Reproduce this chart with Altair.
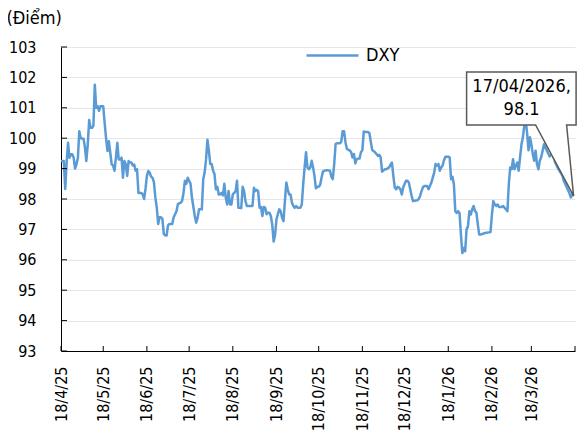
import altair as alt
import pandas as pd

FONT = "DejaVu Sans Condensed, DejaVu Sans, sans-serif"

start_date = "2025-04-18"
day_offsets = [
    0, 2, 3, 4, 5, 6, 7, 8, 9, 10, 11, 12, 13, 14, 16, 17, 18, 19, 20, 21, 22, 23, 24, 25, 26, 27, 28, 30,
    31, 32, 33, 34, 35, 36, 37, 38, 39, 40, 41, 42, 43, 44, 45, 46, 47, 48, 49, 50, 51, 52, 53, 54, 55, 56,
    57, 58, 59, 60, 61, 62, 63, 64, 65, 66, 67, 68, 69, 70, 71, 72, 73, 74, 75, 76, 77, 79, 80, 81, 82, 83,
    85, 86, 87, 88, 89, 90, 91, 92, 93, 95, 96, 97, 98, 100, 101, 102, 103, 104, 105, 106, 107, 108, 109,
    110, 111, 112, 113, 114, 115, 116, 117, 118, 119, 120, 121, 122, 123, 124, 125, 126, 128, 129, 130, 131,
    132, 136, 137, 138, 139, 140, 141, 142, 143, 144, 145, 146, 147, 148, 149, 150, 151, 152, 153, 154, 155,
    156, 157, 158, 159, 160, 161, 162, 163, 164, 165, 166, 167, 168, 170, 171, 172, 173, 174, 175, 176, 177,
    178, 179, 180, 181, 182, 183, 184, 185, 186, 187, 189, 191, 192, 193, 194, 195, 196, 198, 199, 200, 201,
    202, 203, 204, 205, 206, 207, 208, 209, 210, 212, 213, 214, 215, 216, 218, 219, 220, 221, 223, 224, 225,
    226, 227, 228, 230, 231, 233, 234, 235, 236, 237, 238, 239, 240, 241, 242, 243, 244, 245, 246, 247, 248,
    249, 250, 252, 253, 254, 255, 256, 257, 258, 260, 261, 263, 264, 265, 266, 267, 268, 269, 270, 271, 272,
    273, 275, 276, 277, 278, 279, 280, 281, 282, 283, 284, 285, 286, 287, 288, 289, 290, 291, 292, 293, 294,
    295, 296, 297, 298, 301, 305, 306, 307, 308, 309, 310, 311, 313, 314, 315, 316, 317, 318, 319, 320, 321,
    322, 323, 324, 325, 326, 327, 328, 329, 330, 331, 332, 333, 334, 335, 336, 337, 338, 339, 340, 341, 342,
    343, 345, 347, 349, 351, 353, 355, 356, 357, 358, 360, 361, 362, 363, 364,
]
dxy_values = [
    99.25, 99.25, 98.33, 99.2, 99.85, 99.36, 99.47, 99.47, 99.36, 99.0, 99.14, 99.36, 100.23, 100.0, 99.98,
    99.7, 99.25, 99.8, 100.6, 100.34, 100.34, 100.4, 101.76, 101.0, 101.05, 100.9, 101.05, 101.05,
    100.5, 100.0, 99.58, 99.9, 99.52, 99.14, 99.1, 98.93, 99.36, 99.85, 99.3, 99.3, 99.36, 98.7, 99.25,
    99.14, 98.76, 99.25, 99.2, 99.2, 99.1, 99.13, 98.93, 98.98, 98.2, 98.2,
    98.2, 98.15, 98.0, 98.33, 98.76, 98.92, 98.87, 98.73, 98.7, 98.55, 98.05, 97.72, 97.18, 97.4, 97.4,
    97.35, 96.85, 96.8, 96.8, 97.13, 97.18, 97.18, 97.4, 97.5, 97.6, 97.83,
    97.88, 97.94, 98.2, 98.6, 98.5, 98.7, 98.6, 98.5, 98.04, 97.44, 97.22, 97.38, 97.66, 97.66, 98.65,
    98.87, 99.31, 99.95, 99.6, 99.15, 99.15, 98.93, 98.82,
    98.32, 98.4, 98.15, 98.15, 98.2, 98.12, 98.5, 98.04, 97.82, 98.26, 97.82, 97.82, 98.15, 98.2, 98.26,
    98.6, 97.71, 97.7, 98.4, 98.26, 97.93,
    97.77, 97.77, 98.37, 98.26, 98.3, 98.26, 97.71, 97.74, 97.44, 97.74, 97.71, 97.5, 97.55, 97.55, 97.44,
    97.16, 96.6, 96.82, 97.33, 97.5, 97.66,
    97.6, 97.38, 97.27, 97.93, 98.54, 98.32, 98.15, 98.15, 97.88, 97.77, 97.71, 97.77, 97.71, 97.71, 97.82,
    98.49, 99.04, 99.54, 99.04, 98.98, 99.04,
    99.26, 99.04, 98.76, 98.35, 98.4, 98.4, 98.46, 98.7, 98.9, 98.93, 98.95, 98.93, 98.73, 98.65, 99.15,
    99.81, 99.83, 99.83, 99.88, 100.23, 100.23,
    99.87, 99.65, 99.62, 99.6, 99.54, 99.37, 99.48, 99.17, 99.32, 99.33, 99.54, 99.6, 100.22, 100.2, 100.2,
    100.17, 99.88, 99.61, 99.54, 99.48, 99.42,
    99.45, 99.37, 98.9, 98.98, 98.98, 99.04, 99.13, 99.2, 98.76, 98.38, 98.32, 98.4, 98.38, 98.32, 98.15,
    98.38, 98.49, 98.6, 98.6, 98.54, 98.32,
    98.1, 97.93, 97.95, 97.96, 98.0, 98.1, 98.26, 98.38, 98.43, 98.43, 98.32, 98.54, 98.7, 98.87, 99.15,
    99.1, 99.15, 98.93, 99.04, 99.1, 99.28,
    99.39, 99.39, 99.37, 98.65, 98.73, 98.48, 97.6, 97.54, 97.6, 97.54, 96.83, 96.22, 96.39, 96.28, 97.0,
    97.1, 97.6, 97.49, 97.66, 97.77, 97.6,
    97.55, 97.16, 96.83, 96.83, 96.88, 96.91, 97.49, 97.93, 97.82, 97.77, 97.82, 97.74, 97.74, 97.77, 97.71,
    97.66, 97.6, 98.49, 99.04, 98.98, 99.31,
    98.98, 99.09, 99.2, 98.93, 99.37, 99.8, 100.03, 100.42, 100.6, 100.15, 99.6, 100.03, 99.8, 99.48, 99.26,
    99.59, 99.15, 98.98, 99.26, 99.37, 99.59,
    99.8, 99.6, 99.4, 99.5, 99.2, 99.0, 98.85, 98.77, 98.6, 98.5, 98.3, 98.2, 98.05, 98.15, 98.1,
]
series_name = "DXY"
y_ticks = [93, 94, 95, 96, 97, 98, 99, 100, 101, 102, 103]
x_tick_dates = [
    "2025-04-18", "2025-05-18", "2025-06-18", "2025-07-18", "2025-08-18", "2025-09-18", "2025-10-18",
    "2025-11-18", "2025-12-18", "2026-01-18", "2026-02-18", "2026-03-18", "2026-04-18",
]
labelled_ticks = x_tick_dates[:-1]

W, H = 514, 304
LINE_COLOR = "#5B9BD5"

df = pd.DataFrame({
    "date": pd.Timestamp(start_date) + pd.to_timedelta(day_offsets, unit="D"),
    "value": dxy_values,
    "series": series_name,
})

last = df.tail(1).copy()
last["label"] = last["date"].dt.strftime("%d/%m/%Y") + ",\n" + last["value"].map(lambda v: f"{v:.1f}")


def dt(s):
    t = pd.Timestamp(s)
    return alt.DateTime(year=t.year, month=t.month, date=t.day)


x_scale = alt.Scale(domain=[dt(x_tick_dates[0]), dt(x_tick_dates[-1])], nice=False)
y_scale = alt.Scale(domain=[y_ticks[0], y_ticks[-1]], nice=False, zero=False)

x_axis = alt.Axis(values=[dt(s) for s in labelled_ticks], format="%-d/%-m/%y",
                  labelAngle=-90, labelFontSize=16, labelFont=FONT, labelColor="black",
                  labelPadding=15, ticks=False, tickSize=0, grid=False,
                  domainColor="black", domainWidth=1, labelFlush=False,
                  labelOverlap=False, labelBound=False)
y_axis = alt.Axis(values=y_ticks, labelFontSize=16, labelFont=FONT, labelColor="black",
                  labelPadding=25, ticks=False, tickSize=0, grid=True,
                  gridColor="#E6E6E6", gridWidth=1, domainColor="black", domainWidth=1,
                  titleAngle=0, titleAlign="left", titleBaseline="alphabetic",
                  titleX=-55, titleY=-24, titleFontSize=18, titleFont=FONT,
                  titleFontWeight="normal", titleColor="black")


def x_enc():
    return alt.X("date:T", scale=x_scale, title=None, axis=x_axis)


def y_enc():
    return alt.Y("value:Q", scale=y_scale, title="(Điểm)", axis=y_axis)


line = alt.Chart(df).mark_line(strokeWidth=2.5, strokeJoin="round").encode(
    x=x_enc(),
    y=y_enc(),
    color=alt.Color("series:N", scale=alt.Scale(range=[LINE_COLOR]),
                    legend=alt.Legend(orient="none", legendX=244, legendY=-19, title=None,
                                      symbolType="stroke", symbolSize=2704, symbolStrokeWidth=2.5,
                                      labelFontSize=18, labelFont=FONT, labelColor="black",
                                      labelOffset=6, padding=0)),
)

ytick_df = pd.DataFrame({"value": y_ticks})
yticks = alt.Chart(ytick_df).mark_rule(color="black", strokeWidth=1).encode(
    y=y_enc(),
    x=alt.value(0), x2=alt.value(6),
)

xtick_df = pd.DataFrame({"date": pd.to_datetime(x_tick_dates)})
xticks = alt.Chart(xtick_df).mark_rule(color="black", strokeWidth=1).encode(
    x=x_enc(),
    y=alt.value(H), y2=alt.value(H - 5),
)

callout_path = "M -107 -124 L 2.5 -124 L 2.5 -71 L -7 -71 L 0 0 L -38 -71 L -107 -71 Z"
callout = alt.Chart(last).mark_point(
    shape=callout_path, size=4, filled=True, fill="white", stroke="#595959",
    strokeWidth=1.5, opacity=1,
).encode(
    x=x_enc(),
    y=y_enc(),
)

callout_text = alt.Chart(last).mark_text(
    lineBreak="\n", fontSize=18, font=FONT, color="black", align="center",
    baseline="middle", lineHeight=23, dx=-52, dy=-109,
).encode(
    x=x_enc(),
    y=y_enc(),
    text="label:N",
)

chart = alt.layer(line, yticks, xticks, callout, callout_text).properties(
    width=W, height=H,
    autosize=alt.AutoSizeParams(type="none"),
    padding={"left": 53, "top": 39, "right": 2, "bottom": 82},
    background="white",
).configure_view(stroke=None)

chart.save("out.html", embed_options={"renderer": "svg", "actions": False})
